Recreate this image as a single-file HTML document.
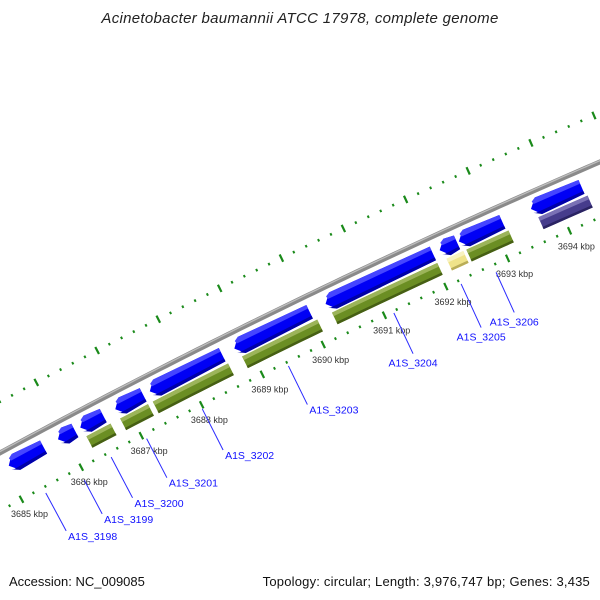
<!DOCTYPE html>
<html><head><meta charset="utf-8"><style>
html,body{margin:0;padding:0;background:#fff;}
svg{display:block;font-family:"Liberation Sans",sans-serif;}
</style></head><body>
<svg id="map" width="600" height="600" viewBox="0 0 600 600" xmlns="http://www.w3.org/2000/svg">
<rect width="600" height="600" fill="#fff"/>
<text x="300" y="23" text-anchor="middle" font-size="15" letter-spacing="0.3" font-style="italic" fill="#222">Acinetobacter baumannii ATCC 17978, complete genome</text>
<g id="plot"></g>
<text x="9" y="586" font-size="13" fill="#111">Accession: NC_009085</text>
<text x="590" y="586" text-anchor="end" font-size="13" letter-spacing="0.2" fill="#111">Topology: circular; Length: 3,976,747 bp; Genes: 3,435</text>
</svg>
<script>
// data (kbp)
const geneStarts = [3685.07,3685.89,3686.26,3686.84,3687.41,3688.80,3690.29,3692.14,3692.45,3693.61];
const geneEnds   = [3685.65,3686.17,3686.64,3687.30,3688.60,3690.03,3692.03,3692.42,3693.15,3694.42];
const barStarts  = [3686.28,3686.84,3687.38,3688.85,3690.32,3692.18,3692.50,3693.66];
const barEnds    = [3686.68,3687.30,3688.62,3690.08,3692.03,3692.45,3693.18,3694.45];
const barKinds   = ["green","green","green","green","green","yellow","green","purple"];
const labelNames = ["A1S_3198","A1S_3199","A1S_3200","A1S_3201","A1S_3202","A1S_3203","A1S_3204","A1S_3205","A1S_3206"];
const labelKbp   = [3685.36,3685.95,3686.46,3687.05,3687.98,3689.40,3691.14,3692.22,3692.76];
const tickLabels = [3685,3686,3687,3688,3689,3690,3691,3692,3693,3694];

// geometry
const R=7460, CX=3552, CY=7013;
const TH0=Math.atan2(-0.896,-0.444), DTH=68.3/R, KREF=3689;
function pt(k,off){const t=TH0+(k-KREF)*DTH, r=R+off;return [CX+r*Math.cos(t), CY+r*Math.sin(t)];}
function P(a){return a[0].toFixed(2)+","+a[1].toFixed(2);}
const NS="http://www.w3.org/2000/svg";
const g=document.getElementById("plot");
function el(tag,attrs){const e=document.createElementNS(NS,tag);for(const k in attrs)e.setAttribute(k,attrs[k]);g.appendChild(e);return e;}
function band(k1,k2,o1,o2,fill){const pts=[];const n=Math.max(2,Math.ceil((k2-k1)*5));for(let i=0;i<=n;i++)pts.push(P(pt(k1+(k2-k1)*i/n,o1)));for(let i=n;i>=0;i--)pts.push(P(pt(k1+(k2-k1)*i/n,o2)));return el("polygon",{points:pts.join(" "),fill:fill});}

// backbone
let bb=[];for(let k=3684;k<=3696;k+=0.1)bb.push(P(pt(k,0)));
const bbl=el("polyline",{points:bb.join(" "),fill:"none",stroke:"#8a8a8a","stroke-width":5});


let bb2=[];for(let k=3684;k<=3696;k+=0.1)bb2.push(P(pt(k,1.2)));
const bbh=el("polyline",{points:bb2.join(" "),fill:"none",stroke:"#bdbdbd","stroke-width":1.3});



// ticks
for(let i=0;i<=60;i++){
  const k=3684+i*0.2, major=(i%5===0), h=major?4:1.3;
  [[-51,"inner"],[45,"outer"]].forEach(([o,nm])=>{
    const a=pt(k,o-h), b=pt(k,o+h);
    const t=el("line",{x1:a[0],y1:a[1],x2:b[0],y2:b[1],stroke:"#1a8a1a","stroke-width":major?2.2:2});
    
    
  });
}
tickLabels.forEach(k=>{
  const p=pt(k,-68);
  const t=el("text",{x:p[0],y:p[1]+3,"text-anchor":"middle","font-size":9,fill:"#333"});
  t.textContent=k+" kbp";
  
  
});

// genes (reverse strand arrows)
geneStarts.forEach((s,i)=>{
  const e=geneEnds[i], o1=-8, o2=-23, om=(o1+o2)/2;
  const h=Math.min(0.12,(e-s)*0.5);
  const pts=[P(pt(s,om)),P(pt(s+h,o1+1.5)),P(pt(e,o1)),P(pt(e,o2)),P(pt(s+h,o2-1.5))];
  const poly=el("polygon",{points:pts.join(" "),fill:"#0000f5"});
  
  
  const hl=el("polygon",{points:[P(pt(s+h*0.45,o1-1)),P(pt(s+h,o1+1.5)),P(pt(e,o1)),P(pt(e,o1-4)),P(pt(s+h*0.55,o1-4))].join(" "),fill:"#4545ff"});
  
  
  const sh=el("polygon",{points:[P(pt(s+h*0.1,om-4.5)),P(pt(s+h,o2-1.5)),P(pt(e,o2)),P(pt(e,o2+3)),P(pt(s+h*0.4,o2+2))].join(" "),fill:"#0000a8"});
  
  
});

// category bars
const COLS={green:["#6b8e23","#9cb45a","#465f14"],yellow:["#efe38a","#f8f2c0","#b9ad58"],purple:["#463c8c","#7a71b5","#2a2362"]};
barStarts.forEach((s,i)=>{
  const e=barEnds[i], c=COLS[barKinds[i]];
  const b=band(s,e,-26,-39,c[0]);
  
  
  const t=band(s,e,-26,-30,c[1]);
  
  
  const d=band(s,e,-36.5,-39,c[2]);
  
  
});

// labels
const lblR1=[-57,-64,-56,-56,-55,-55,-53,-55,-59];
const lblR2=[-100,-102,-102,-100,-101,-98,-98,-103,-103];
const lblAnchor=["start","start","start","start","start","start","middle","middle","middle"];
labelNames.forEach((n,i)=>{
  const a=pt(labelKbp[i],lblR1[i]), b=pt(labelKbp[i],lblR2[i]);
  const l=el("line",{x1:a[0],y1:a[1],x2:b[0],y2:b[1],stroke:"#2a2aff","stroke-width":1});
  
  
  const mid=lblAnchor[i]==="middle";
  const t=el("text",{x:b[0]+(mid?0:2),y:b[1]+(mid?13:9),"text-anchor":lblAnchor[i],"font-size":10.5,fill:"#1010ff"});
  t.textContent=n;
  
  
});
</script>
</body></html>
